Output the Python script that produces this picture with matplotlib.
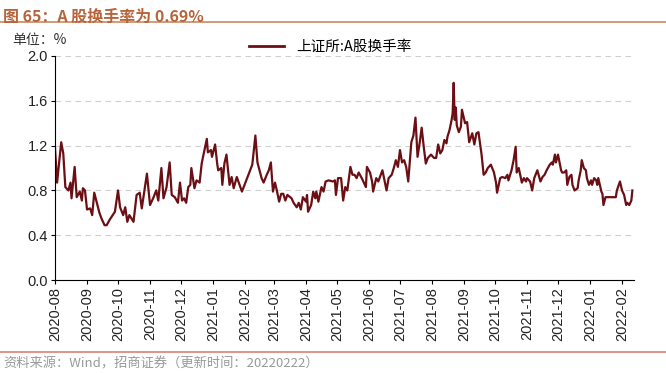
import pandas as pd
import numpy as np
import matplotlib
matplotlib.use('Agg')
import matplotlib.pyplot as plt
import matplotlib.dates as mdates
from matplotlib.lines import Line2D

plt.rcParams['font.family'] = ['Liberation Sans', 'Noto Sans CJK SC', 'DejaVu Sans']

# %%
# 上证所 A 股换手率（%），按距 2020-08-01 的天数读取
day_offset = [
    0, 2, 6, 8, 10, 13, 15, 16, 19, 21, 24, 26, 27, 29, 31, 34, 36, 38, 41, 43,
    45, 48, 50, 53, 58, 61, 63, 66, 68, 70, 72, 74, 76, 79, 82, 84, 89, 92, 95, 98,
    100, 103, 105, 108, 111, 113, 116, 119, 121, 123, 125, 127, 129, 131, 132, 135, 137, 140, 142, 144,
    147, 148, 151, 152, 155, 157, 158, 161, 162, 164, 166, 169, 171, 173, 176, 181, 191, 194, 196, 200,
    202, 205, 207, 209, 211, 213, 215, 217, 219, 221, 223, 225, 229, 231, 234, 236, 238, 240, 243, 244,
    245, 248, 250, 252, 253, 255, 258, 260, 262, 265, 269, 271, 272, 274, 277, 279, 281, 283, 286, 288,
    290, 292, 294, 297, 301, 302, 305, 307, 308, 311, 313, 317, 319, 321, 323, 326, 328, 330, 332, 334,
    336, 338, 340, 342, 345, 347, 349, 351, 353, 355, 357, 359, 361, 364, 367, 369, 371, 373, 375, 377,
    379, 380, 382, 384, 385, 386, 387, 388, 389, 391, 393, 394, 397, 399, 401, 404, 406, 408, 410, 413,
    415, 417, 419, 422, 425, 427, 428, 431, 433, 436, 438, 439, 442, 444, 446, 447, 449, 452, 454, 456,
    457, 460, 462, 464, 467, 470, 472, 474, 476, 479, 481, 482, 484, 485, 487, 490, 491, 493, 495, 496,
    498, 500, 501, 503, 506, 507, 509, 510, 512, 514, 515, 517, 519, 520, 522, 524, 525, 526, 529, 530,
    531, 533, 536, 543, 544, 547, 549, 551, 553, 554, 556, 558, 559,
]
turnover = [
    1.18, 0.87, 1.23, 1.13, 0.83, 0.80, 0.87, 0.73, 1.01, 0.74, 0.79, 0.71, 0.82, 0.80, 0.63, 0.64, 0.58, 0.78, 0.67, 0.60,
    0.55, 0.49, 0.49, 0.54, 0.61, 0.80, 0.65, 0.58, 0.65, 0.52, 0.58, 0.55, 0.52, 0.76, 0.78, 0.64, 0.95, 0.67, 0.73, 0.80,
    0.71, 1.00, 0.73, 0.83, 1.05, 0.76, 0.74, 0.69, 0.87, 0.71, 0.73, 0.69, 0.83, 0.85, 1.00, 0.82, 0.89, 0.87, 1.04, 1.13,
    1.26, 1.14, 1.16, 1.10, 1.21, 1.04, 0.98, 1.00, 0.85, 1.04, 1.12, 0.85, 0.92, 0.82, 0.92, 0.79, 1.03, 1.29, 1.05, 0.91,
    0.87, 0.94, 0.98, 1.05, 0.79, 0.87, 0.79, 0.70, 0.77, 0.77, 0.71, 0.76, 0.73, 0.69, 0.65, 0.69, 0.63, 0.74, 0.70, 0.76,
    0.61, 0.67, 0.79, 0.73, 0.79, 0.70, 0.83, 0.79, 0.88, 0.89, 0.88, 0.89, 0.76, 0.91, 0.91, 0.71, 0.83, 0.80, 1.01, 0.94,
    0.94, 0.91, 0.96, 0.91, 0.83, 1.01, 0.96, 0.88, 0.79, 0.91, 0.88, 0.98, 0.89, 0.80, 0.91, 0.94, 1.00, 1.07, 1.01, 1.16,
    1.05, 1.07, 1.01, 0.88, 1.23, 1.29, 1.45, 1.10, 1.22, 1.36, 1.19, 1.04, 1.09, 1.12, 1.09, 1.09, 1.21, 1.13, 1.16, 1.25,
    1.22, 1.28, 1.34, 1.43, 1.49, 1.76, 1.43, 1.54, 1.38, 1.32, 1.37, 1.52, 1.40, 1.41, 1.23, 1.31, 1.21, 1.31, 1.32, 1.12,
    0.94, 0.96, 1.00, 1.03, 0.96, 0.87, 0.78, 0.91, 0.92, 0.91, 0.94, 0.89, 0.98, 1.07, 1.19, 0.96, 1.00, 0.87, 0.91, 0.88,
    0.91, 0.88, 0.80, 0.91, 0.98, 0.88, 0.92, 0.94, 0.98, 1.03, 1.05, 1.03, 1.12, 1.05, 1.12, 0.98, 0.96, 0.96, 0.98, 0.85,
    0.92, 0.94, 0.85, 0.80, 0.82, 0.89, 0.98, 1.07, 1.00, 0.98, 0.91, 0.85, 0.89, 0.85, 0.91, 0.89, 0.85, 0.91, 0.79, 0.77,
    0.67, 0.74, 0.74, 0.74, 0.80, 0.88, 0.80, 0.76, 0.67, 0.69, 0.67, 0.71, 0.80,
]

title = '图 65：A 股换手率为 0.69%'
source = '资料来源：Wind，招商证券（更新时间：20220222）'
series_name = '上证所:A股换手率'
y_ticks = [0.0, 0.4, 0.8, 1.2, 1.6, 2.0]

dates = pd.Timestamp('2020-08-01') + pd.to_timedelta(day_offset, unit='D')

# %%
fig = plt.figure(figsize=(6.66, 3.73), dpi=100)
ax = fig.add_axes([0.0826, 0.249, 0.87, 0.601])

ax.plot(dates, turnover, color='#6B0F14', linewidth=1.6)

ax.set_ylim(0, 2.0)
ax.set_yticks(y_ticks)
ax.set_yticklabels([f'{v:.1f}' for v in y_ticks], fontsize=10.5, color='#222222')
ax.yaxis.grid(True, linestyle=(0, (5, 4)), color='#CFCFCF', linewidth=0.8)
ax.set_axisbelow(True)

ax.set_xlim(pd.Timestamp('2020-08-01'), pd.Timestamp('2022-02-13'))
ax.xaxis.set_major_locator(mdates.MonthLocator())
ax.xaxis.set_major_formatter(mdates.DateFormatter('%Y-%m'))
plt.setp(ax.get_xticklabels(), rotation=90, fontsize=10.5, color='#222222')

ax.spines['top'].set_visible(False)
ax.spines['right'].set_visible(False)
ax.spines['left'].set_color('#000000')
ax.spines['bottom'].set_color('#000000')
ax.tick_params(axis='both', direction='out', length=3, width=0.8, pad=2)

handle = Line2D([], [], color='#6B0F14', linewidth=2)
ax.legend([handle], [series_name], loc='center', bbox_to_anchor=(0.475, 1.04),
          frameon=False, handlelength=2.4, borderpad=0.1,
          prop={'family': ['Noto Sans CJK SC'], 'size': 10.5})

# 标题、单位、来源
fig.text(0.005, 0.975, title, fontsize=11.5, fontweight='bold', color='#B8643A',
         va='top', ha='left', family=['Noto Sans CJK SC', 'DejaVu Sans'])
fig.add_artist(Line2D([0, 1], [0.94, 0.94], color='#C98A63', linewidth=1.2, transform=fig.transFigure))
fig.text(0.018, 0.893, '单位：%', fontsize=10, color='#333333', va='center', ha='left',
         family=['Noto Sans CJK SC', 'DejaVu Sans'])
fig.add_artist(Line2D([0, 1], [0.057, 0.057], color='#D98070', linewidth=1.2, transform=fig.transFigure))
fig.text(0.005, 0.024, source, fontsize=9.5, color='#999999', va='center', ha='left',
         family=['Noto Sans CJK SC', 'DejaVu Sans'])

plt.savefig('out.png', dpi=100)
